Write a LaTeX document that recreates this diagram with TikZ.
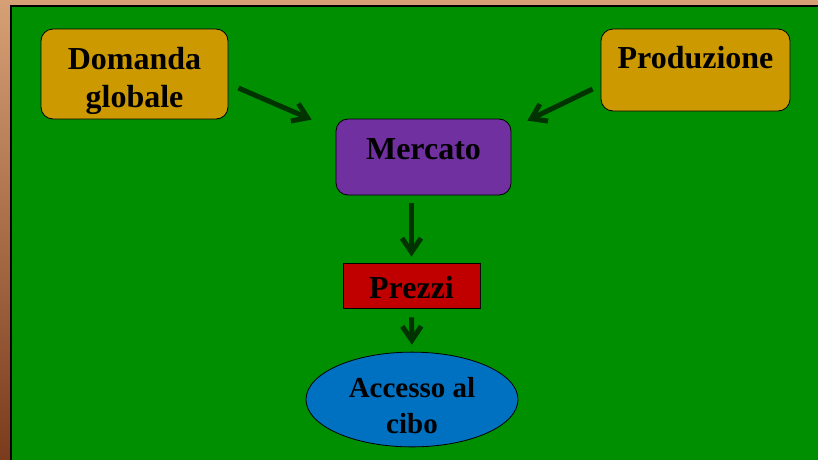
\documentclass[tikz,border=0pt]{standalone}
\usepackage{fontspec}
\setmainfont{Liberation Serif}
\usetikzlibrary{arrows.meta,shapes.geometric}
\definecolor{fondo}{RGB}{0,143,0}
\definecolor{cornice}{RGB}{214,160,118}
\definecolor{cornicebassa}{RGB}{122,60,28}
\definecolor{ocra}{RGB}{204,153,0}
\definecolor{viola}{RGB}{112,48,160}
\definecolor{rosso}{RGB}{192,0,0}
\definecolor{azzurro}{RGB}{0,112,192}
\definecolor{verdescuro}{RGB}{0,51,0}
\begin{document}
\begin{tikzpicture}[x=1pt,y=-1pt,
    scatola/.style={draw=black,line width=.8pt,inner ysep=0pt,
      font=\bfseries\fontsize{32}{38}\selectfont,align=center},
    freccia/.style={-{Straight Barb[length=14pt,width=19pt]},line width=5pt,color=verdescuro}]
  \useasboundingbox (0,0) rectangle (818,459);
  % cornice e fondo
  \fill[cornice] (0,0) rectangle (818,6);
  \shade[top color=cornice,bottom color=cornicebassa] (0,0) rectangle (11,459);
  \draw[fill=fondo,line width=1.5pt] (11,6) rectangle (830,470);
  % scatole
  \node[scatola,rounded corners=12pt,fill=ocra,minimum width=187pt,
    text height=78pt,text depth=12pt] (dom) at (134.5,74) {Domanda\\globale};
  \node[scatola,rounded corners=12pt,fill=ocra,minimum width=189pt,
    text height=39pt,text depth=43pt] (prod) at (695.5,70) {Produzione};
  \node[scatola,rounded corners=12pt,fill=viola,minimum width=175pt,
    text height=40pt,text depth=36pt] (merc) at (423.5,157) {Mercato};
  \node[scatola,fill=rosso,minimum width=137pt,
    text height=35pt,text depth=10pt] (prez) at (411.5,285.5) {Prezzi};
  \node[scatola,ellipse,fill=azzurro,inner sep=0pt,minimum width=212pt,minimum height=91pt,
    font=\bfseries\fontsize{29}{36}\selectfont,
    text height=67pt,text depth=-4pt] (acc) at (412,399.5) {Accesso al\\cibo};
  % frecce
  \draw[freccia] ([xshift=10pt,yshift=-14pt]dom.east) -- ([xshift=-24pt,yshift=-1pt]merc.north west);
  \draw[freccia] ([xshift=-8pt,yshift=-19pt]prod.west) -- ([xshift=16pt,yshift=-2pt]merc.north east);
  \draw[freccia,shorten <=8pt,shorten >=6pt] (merc.south -| prez.north) -- (prez.north);
  \draw[freccia,shorten <=9pt,shorten >=7pt] (prez.south) -- (acc.north);
\end{tikzpicture}
\end{document}
